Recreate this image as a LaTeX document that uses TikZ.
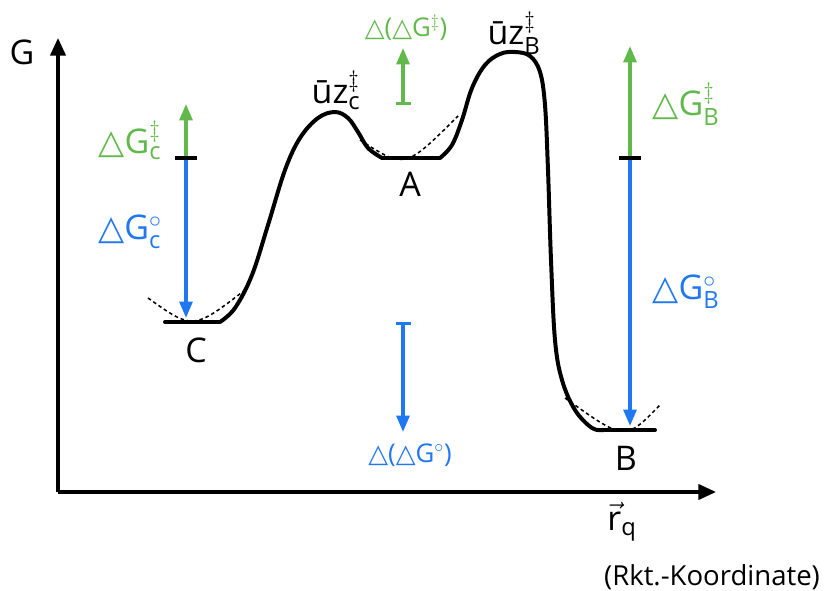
\documentclass[tikz,border=0pt]{standalone}
\usepackage{fix-cm}
\usepackage{amsmath}
\usepackage{fontspec}
\setmainfont{Open Sans}
\newfontfamily\symfont{DejaVu Sans}
\usetikzlibrary{arrows.meta}
\definecolor{dgreen}{HTML}{62B94B}
\definecolor{dblue}{HTML}{1F77F2}
\newcommand{\dtri}{{\symfont\char"25B3}}
\tikzset{
  axis/.style={line width=2.8pt, -{Triangle[length=15pt,width=13pt]}},
  curve/.style={line width=3.4pt, line join=round, line cap=round},
  approx/.style={line width=1.3pt, dash pattern=on 3pt off 2.5pt},
  up/.style={dgreen, line width=2.8pt, -{Triangle[length=14pt,width=11pt]}},
  down/.style={dblue, line width=2.8pt, -{Triangle[length=14pt,width=11pt]}},
  tickmark/.style={fill=black, inner sep=0pt, minimum width=0.68cm, minimum height=3.2pt},
  lab/.style={font=\fontsize{29}{34}\selectfont},
  small/.style={font=\fontsize{22}{26}\selectfont},
}
\begin{document}
\begin{tikzpicture}[x=0.03cm, y=-0.03cm]
\useasboundingbox (0,0) rectangle (828,591);
% axes
\coordinate (O) at (58,492);
\coordinate (yEnd) at (58,38);
\coordinate (xEnd) at (716,492);
\draw[axis] (O) -- (yEnd);
\draw[axis] (O) -- (xEnd);
\node[lab] (G) at (22,52) {G};
\node[lab] (rq) at (622,522) {$\vec{\text{r}}_{\text{q}}$};
\node[small, font=\fontsize{23.5}{28}\selectfont] (rkt) at (712,577) {(Rkt.-Koordinate)};
% energy profile
\draw[curve] (165,322) -- (220,322)
  plot[smooth, tension=0.6] coordinates {(220,322) (235,308) (252,275) (268,225)
    (285,170) (300,138) (318,118) (335,112) (348,118) (358,132) (368,148) (382,158)}
  -- (440,158)
  plot[smooth, tension=0.6] coordinates {(440,158) (452,145) (462,120) (472,88)
    (485,65) (500,54) (515,52) (530,56) (540,72) (545,105) (548,170) (551,260)
    (555,340) (562,380) (575,410) (592,428) (604,430)}
  -- (655,430);
\draw[approx] (148,298) .. controls (193,330) .. (245,290);
\draw[approx] (360,140) .. controls (405,169) .. (458,116);
\draw[approx] (565,398) .. controls (625,441) .. (660,405);
% minima and transition states
\node[lab] (A) at (410,184) {A};
\node[lab] (C) at (196,350) {C};
\node[lab] (B) at (626,458) {B};
\node[lab] (TSc) at (336,90) {\={u}z$^{\ddagger}_{\text{c}}$};
\node[lab] (TSb) at (514,33) {\={u}z$^{\ddagger}_{\text{B}}$};
% C side
\node[tickmark] (cTick) at (186,158) {};
\coordinate (cTop) at (186,104);
\coordinate (cBot) at (186,318);
\draw[up] (cTick.north) -- (cTop);
\draw[down] (cTick.south) -- (cBot);
\node[lab, dgreen] (dGcTS) at (130,140) {\dtri G$^{\ddagger}_{\text{c}}$};
\node[lab, dblue] (dGc) at (130,232) {\dtri G$^{\circ}_{\text{c}}$};
% B side
\node[tickmark] (bTick) at (630,158) {};
\coordinate (bTop) at (630,46);
\coordinate (bBot) at (630,426);
\draw[up] (bTick.north) -- (bTop);
\draw[down] (bTick.south) -- (bBot);
\node[lab, dgreen] (dGbTS) at (686,104) {\dtri G$^{\ddagger}_{\text{B}}$};
\node[lab, dblue] (dGb) at (686,292) {\dtri G$^{\circ}_{\text{B}}$};
% differences
\coordinate (ddTSlow) at (403,105);
\coordinate (ddTShigh) at (403,48);
\draw[up, {Bar[width=0.45cm]}-{Triangle[length=14pt,width=11pt]}] (ddTSlow) -- (ddTShigh);
\node[small, dgreen] (ddGTS) at (406,28) {\dtri(\dtri G$^{\ddagger}$)};
\coordinate (ddGhigh) at (403,322);
\coordinate (ddGlow) at (403,432);
\draw[down, {Bar[width=0.45cm]}-{Triangle[length=14pt,width=11pt]}] (ddGhigh) -- (ddGlow);
\node[small, dblue] (ddG) at (410,455) {\dtri(\dtri G$^{\circ}$)};
\end{tikzpicture}
\end{document}
